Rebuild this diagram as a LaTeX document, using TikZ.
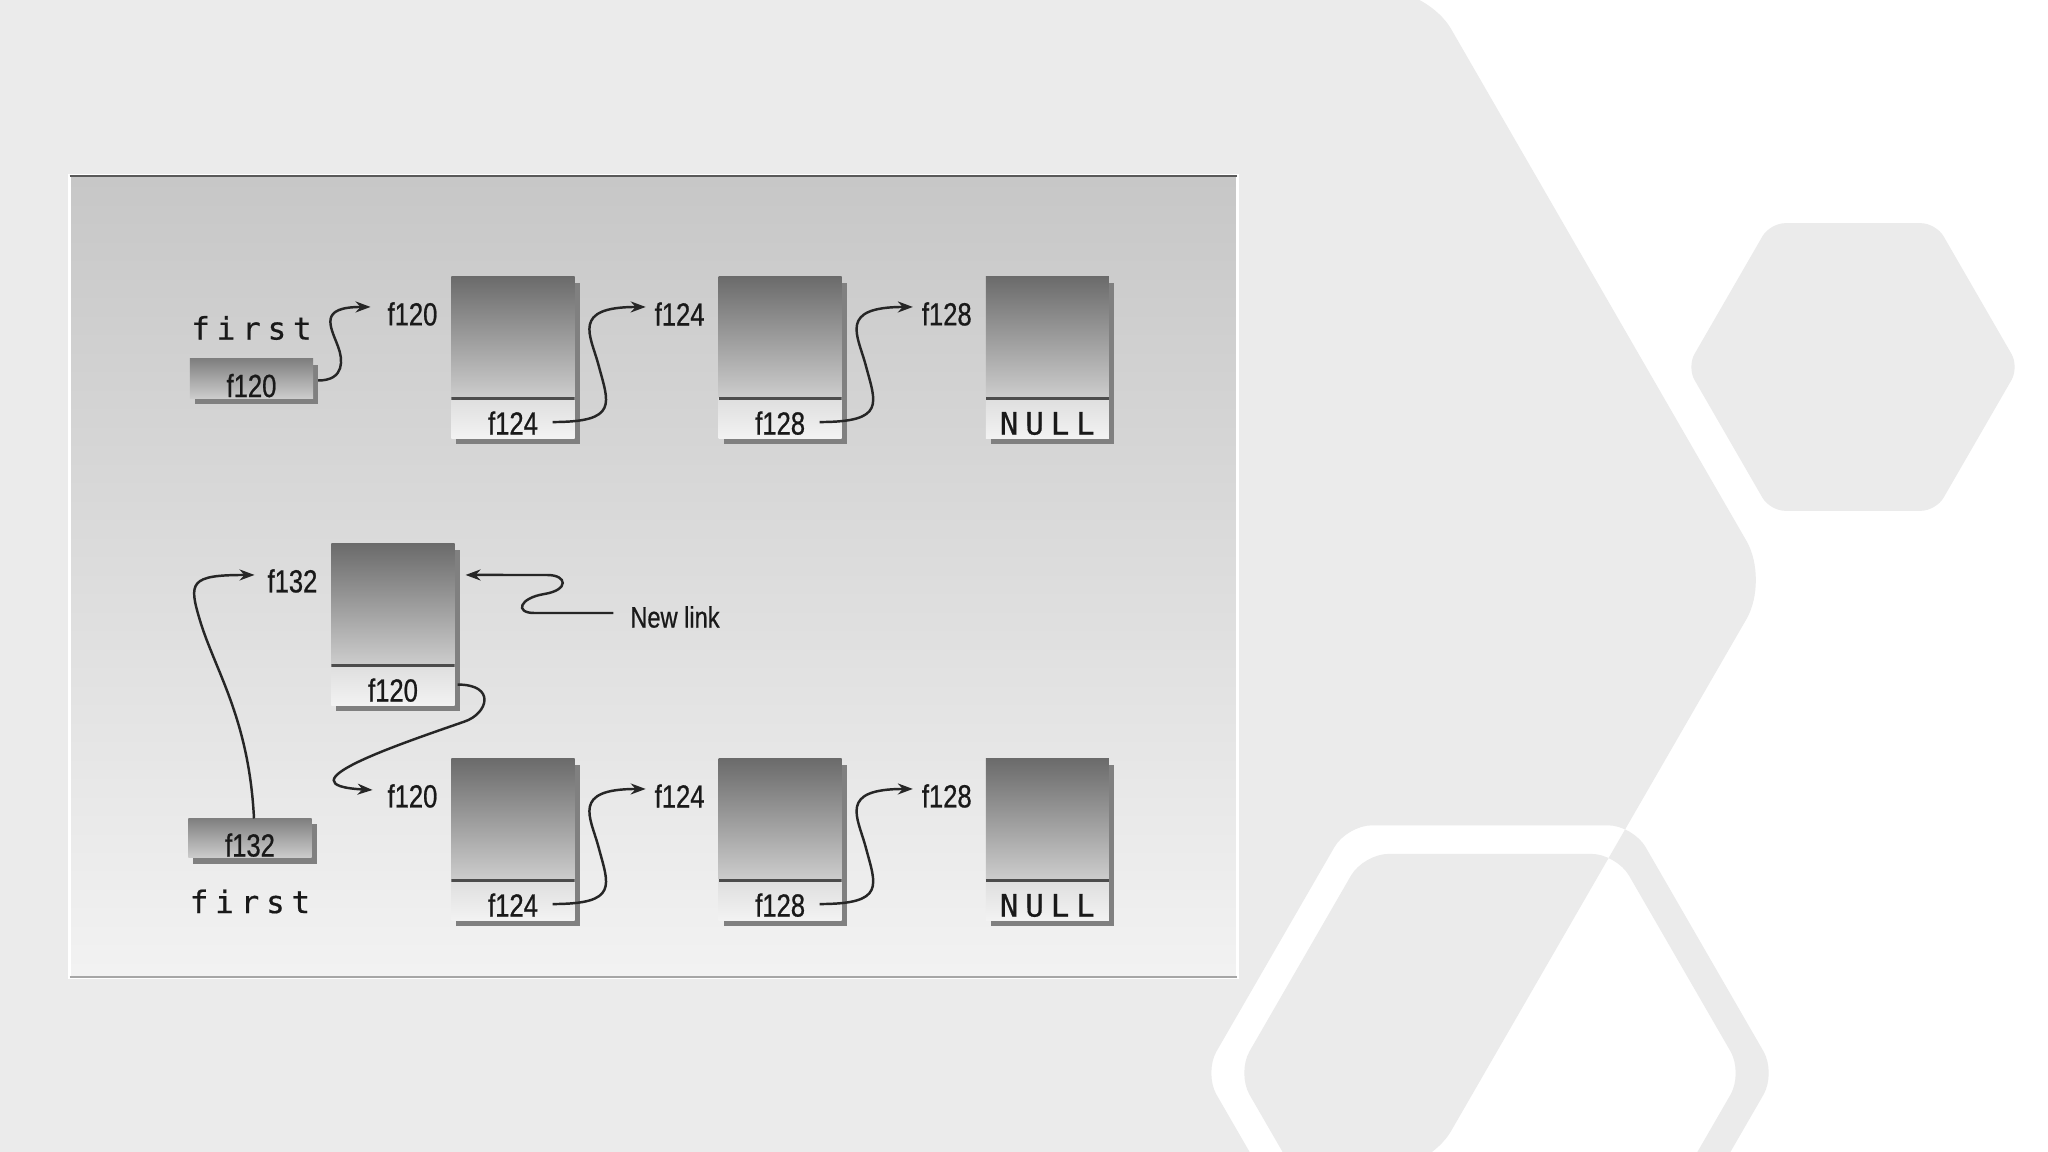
\documentclass[tikz,border=0pt]{standalone}
\usepackage{fontspec}
\usepackage{tikz}
\usetikzlibrary{arrows.meta,positioning,calc,shadows}
\setmainfont{Liberation Sans}
\newfontfamily\condfont[FakeStretch=0.8,FakeBold=0.7]{Liberation Sans}
\newfontfamily\spacedmono[LetterSpace=22,FakeBold=0.5]{DejaVu Sans Mono}
\newcommand{\addrfont}{\condfont\fontsize{9.1pt}{10pt}\selectfont}
\newcommand{\notefont}{\condfont\fontsize{8.4pt}{10pt}\selectfont}
\newcommand{\wordfont}{\spacedmono\fontsize{8.8pt}{10pt}\selectfont}
\definecolor{slidegray}{HTML}{EBEBEB}
\tikzset{
  >=Stealth,
  every picture/.append style={line width=0.6pt},
}
\tikzset{
  boxshadow/.style={copy shadow={shadow xshift=0.5mm, shadow yshift=-0.6mm, fill=black!50, draw=none}},
  cell/.style={rectangle, inner sep=0pt, outer sep=0pt, minimum width=12.3mm, minimum height=12mm, top color=black!58, bottom color=black!20, boxshadow},
  linkpart/.style={rectangle, inner sep=0pt, outer sep=0pt, minimum width=12.3mm, minimum height=4.1mm, top color=black!13, bottom color=black!5, text height=3.4mm, text depth=0pt, font=\addrfont, boxshadow,
    path picture={\draw[black!70, line width=0.5mm] (path picture bounding box.north west) -- (path picture bounding box.north east);}},
  ptr/.style={rectangle, inner sep=0pt, outer sep=0pt, minimum width=12.3mm, minimum height=3.9mm, top color=black!50, middle color=black!8, bottom color=black!20, text height=3.7mm, text depth=0pt, font=\addrfont, boxshadow}
}

\begin{document}
\begin{tikzpicture}[
  x=0.01cm, y=-0.01cm,
  every node/.style={text=black!90},
  panel/.style={rectangle, minimum width=116.7mm, minimum height=80.1mm, inner sep=0pt, outer sep=0pt, top color=black!22, bottom color=black!5, draw=white, line width=0.3mm},
  addr/.style={inner sep=0pt, outer sep=0pt, font=\addrfont},
  note/.style={inner sep=0pt, outer sep=0pt, font=\notefont},
  word/.style={inner sep=0pt, outer sep=0pt, font=\wordfont},
  link/.style={-{Stealth[length=1.5mm, width=1.1mm]}, line width=0.7pt, draw=black!85}
]
\useasboundingbox (0,0) rectangle (2048,1152);

% Slide background with hexagons
\fill[white] (0,0) rectangle (2048,1152);
\fill[slidegray, even odd rule, rounded corners=4.5mm]
  (-60,-10) -- (1428.6,-10) -- (1769,580) -- (1428.6,1170) -- (-60,1170) -- cycle
  [rounded corners=2.5mm]
  (1204,1073) -- (1347,825.3) -- (1633,825.3) -- (1776,1073) -- (1633,1320.7) -- (1347,1320.7) -- cycle
  (1237,1073) -- (1363.5,853.9) -- (1616.5,853.9) -- (1743,1073) -- (1616.5,1292.1) -- (1363.5,1292.1) -- cycle;
\fill[slidegray, rounded corners=1.5mm]
  (1687,367) -- (1770,223.2) -- (1936,223.2) -- (2019,367) -- (1936,510.8) -- (1770,510.8) -- cycle;

% Figure panel
\node[panel] (panel) at (653.5,576.5) {};
\draw[black!65, line width=0.2mm] (panel.north west) -- (panel.north east);
\draw[black!35, line width=0.2mm] (panel.south west) -- (panel.south east);

% Original list
\node[ptr] (ptrA) at (251.5,378.5) {f120};
\node[word, above=1.9mm of ptrA] (firstA) {first};

\node[cell] (cellA1) at (513,337) {};
\node[linkpart, below=0pt of cellA1] (linkA1) {f124};
\node[cell, right=14.4mm of cellA1] (cellA2) {};
\node[linkpart, below=0pt of cellA2] (linkA2) {f128};
\node[cell, right=14.4mm of cellA2] (cellA3) {};
\node[linkpart, below=0pt of cellA3, font=\wordfont] (linkA3) {NULL};

\node[addr] (addrA1) at ($(cellA1.north west)+(-39,37)$) {f120};
\node[addr] (addrA2) at ($(cellA2.north west)+(-39,37)$) {f124};
\node[addr] (addrA3) at ($(cellA3.north west)+(-39,37)$) {f128};

% Links of the original list
\draw[link] ($(ptrA.east)+(5,2)$) .. controls +(27,0) and +(5,13) .. ++(20,-34) .. controls +(-8,-21) and +(-52,0) .. ($(addrA1.west)+(-17,-7)$);
\draw[link] ($(linkA1.east)+(-22,4.5)$) .. controls +(67,0) and +(10,38) .. ++(46,-57) .. controls +(-8,-30) and +(-75,0) .. ($(addrA2.west)+(-9,-7)$);
\draw[link] ($(linkA2.east)+(-22,4.5)$) .. controls +(67,0) and +(10,38) .. ++(46,-57) .. controls +(-8,-30) and +(-75,0) .. ($(addrA3.west)+(-9,-7)$);

% New node in front of the list
\node[cell] (cellN) at (393,604) {};
\node[linkpart, below=0pt of cellN] (linkN) {f120};
\node[addr] (addrN) at ($(cellN.north west)+(-39,37)$) {f132};
\node[note] (newlink) at (675,617) {New link};

\node[ptr] (ptrB) at (250,838) {f132};
\node[word, below=3.2mm of ptrB] (firstB) {first};

\node[cell] (cellB1) at (513,819) {};
\node[linkpart, below=0pt of cellB1] (linkB1) {f124};
\node[cell, right=14.4mm of cellB1] (cellB2) {};
\node[linkpart, below=0pt of cellB2] (linkB2) {f128};
\node[cell, right=14.4mm of cellB2] (cellB3) {};
\node[linkpart, below=0pt of cellB3, font=\wordfont] (linkB3) {NULL};

\node[addr] (addrB1) at ($(cellB1.north west)+(-39,37)$) {f120};
\node[addr] (addrB2) at ($(cellB2.north west)+(-39,37)$) {f124};
\node[addr] (addrB3) at ($(cellB3.north west)+(-39,37)$) {f128};

% Links of the new list
\draw[link] ($(ptrB.north)+(4,0)$) .. controls +(-5,-100) and +(15,50) .. ++(-54,-198) .. controls +(-11.6,-38.4) and +(-65,0) .. ($(addrN.west)+(-13,-6)$);
\draw[link] ($(newlink.west)+(-17,-4)$) -- ++(-79,0) .. controls +(-20,0) and +(-25,4) .. ++(10,-19) .. controls +(25,-4) and +(20,0) .. ++(3,-19) -- ($(cellN.north east)+(11,31)$);
\draw[link] ($(linkN.east)+(3,0)$) .. controls +(39,0) and +(23.5,-8) .. ++(7,37) .. controls +(-66,23) and +(-95,-5) .. ($(addrB1.west)+(-15,-6)$);
\draw[link] ($(linkB1.east)+(-22,4.5)$) .. controls +(67,0) and +(10,38) .. ++(46,-57) .. controls +(-8,-30) and +(-75,0) .. ($(addrB2.west)+(-9,-7)$);
\draw[link] ($(linkB2.east)+(-22,4.5)$) .. controls +(67,0) and +(10,38) .. ++(46,-57) .. controls +(-8,-30) and +(-75,0) .. ($(addrB3.west)+(-9,-7)$);

\end{tikzpicture}
\end{document}
